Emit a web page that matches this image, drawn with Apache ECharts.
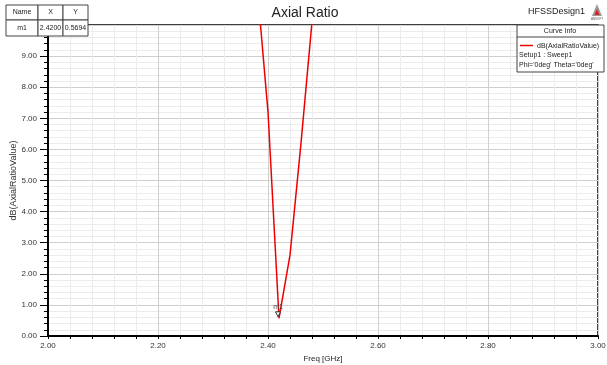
<!DOCTYPE html>
<html>
<head>
<meta charset="utf-8">
<script src="https://cdn.jsdelivr.net/npm/echarts@6/dist/echarts.min.js"></script>
<style>
  html, body { margin: 0; padding: 0; background: #fff; }
  #chart { width: 607px; height: 365px; }
</style>
</head>
<body>
<div id="chart"></div>
<script>
// Sweep points (GHz) and axial ratio (dB)
const freqs = [2.38, 2.40, 2.42, 2.44, 2.46, 2.48];
const axialRatio = [11.3, 7.2, 0.5694, 2.6, 6.2, 10.1];

// Marker m1
const markerName = 'm1';
const markerX = 2.42;
const markerY = 0.5694;

// Curve info lines
const curveName = 'dB(AxialRatioValue)';
const curveInfo = ['Setup1 : Sweep1', "Phi='0deg' Theta='0deg'"];

const FONT = "'Liberation Sans', Arial, sans-serif";
const chart = echarts.init(document.getElementById('chart'), null, { renderer: 'canvas' });

const table = [
  { x: 6, w: 32, head: 'Name', val: markerName },
  { x: 38, w: 25, head: 'X', val: markerX.toFixed(4) },
  { x: 63, w: 25, head: 'Y', val: markerY.toFixed(4) }
];
const tableGraphics = [];
table.forEach(c => {
  tableGraphics.push(
    { type: 'rect', shape: { x: c.x, y: 5, width: c.w, height: 15 }, style: { fill: '#fff', stroke: '#444', lineWidth: 1 }, z: 100 },
    { type: 'rect', shape: { x: c.x, y: 20, width: c.w, height: 16 }, style: { fill: '#fff', stroke: '#444', lineWidth: 1 }, z: 100 },
    { type: 'text', x: c.x + c.w / 2, y: 12.5, style: { text: c.head, fontSize: 7, fontFamily: FONT, fill: '#222', align: 'center', verticalAlign: 'middle' }, z: 101 },
    { type: 'text', x: c.x + c.w / 2, y: 28, style: { text: c.val, fontSize: 7, fontFamily: FONT, fill: '#222', align: 'center', verticalAlign: 'middle' }, z: 101 }
  );
});

const legendGraphics = [
  { type: 'rect', shape: { x: 517, y: 25, width: 87, height: 47 }, style: { fill: '#fff', stroke: '#444', lineWidth: 1 }, z: 100 },
  { type: 'line', shape: { x1: 517, y1: 37, x2: 604, y2: 37 }, style: { stroke: '#444', lineWidth: 1 }, z: 101 },
  { type: 'text', x: 560, y: 31, style: { text: 'Curve Info', fontSize: 7, fontFamily: FONT, fill: '#222', align: 'center', verticalAlign: 'middle' }, z: 101 },
  { type: 'line', shape: { x1: 520, y1: 45.5, x2: 533, y2: 45.5 }, style: { stroke: '#ee0000', lineWidth: 1.5 }, z: 101 },
  { type: 'text', x: 537, y: 46, style: { text: curveName, fontSize: 7, fontFamily: FONT, fill: '#222', align: 'left', verticalAlign: 'middle' }, z: 101 },
  { type: 'text', x: 519, y: 55, style: { text: curveInfo[0], fontSize: 7, fontFamily: FONT, fill: '#222', align: 'left', verticalAlign: 'middle' }, z: 101 },
  { type: 'text', x: 519, y: 65, style: { text: curveInfo[1], fontSize: 7, fontFamily: FONT, fill: '#222', align: 'left', verticalAlign: 'middle' }, z: 101 }
];

const headerGraphics = [
  { type: 'text', x: 305, y: 13, style: { text: 'Axial Ratio', fontSize: 14, fontFamily: FONT, fill: '#222', align: 'center', verticalAlign: 'middle' } },
  { type: 'text', x: 585, y: 12, style: { text: 'HFSSDesign1', fontSize: 9, fontFamily: FONT, fill: '#222', align: 'right', verticalAlign: 'middle' } },
  // small logo
  { type: 'polygon', shape: { points: [[597, 4], [592, 16], [602, 16]] }, style: { fill: '#999' } },
  { type: 'polygon', shape: { points: [[597, 9], [594.5, 15], [599.5, 15]] }, style: { fill: '#d22' } },
  { type: 'text', x: 597, y: 19, style: { text: 'ANSOFT', fontSize: 3, fontFamily: FONT, fill: '#555', align: 'center', verticalAlign: 'middle' } }
];

chart.setOption({
  animation: false,
  backgroundColor: '#fff',
  grid: {
    left: 48, right: 9, top: 25, bottom: 29,
    outerBoundsMode: 'none', containLabel: false,
    show: true, borderColor: '#000', borderWidth: 1.5, backgroundColor: 'transparent'
  },
  xAxis: {
    type: 'value', min: 2, max: 3, interval: 0.2,
    name: 'Freq [GHz]', nameLocation: 'middle', nameGap: 19, nameMoveOverlap: false,
    nameTextStyle: { fontSize: 8, fontFamily: FONT, color: '#222' },
    axisLine: { show: true, onZero: false, lineStyle: { color: '#000', width: 2 } },
    axisTick: { show: true, length: 3, lineStyle: { color: '#000' } },
    minorTick: { show: true, splitNumber: 5, length: 3, lineStyle: { color: '#000' } },
    axisLabel: { fontSize: 8, fontFamily: FONT, color: '#333', margin: 6, formatter: v => v.toFixed(2) },
    splitLine: { show: true, lineStyle: { color: '#cfcfcf', width: 1 } },
    minorSplitLine: { show: true, lineStyle: { color: '#ececec', width: 1 } }
  },
  yAxis: {
    type: 'value', min: 0, max: 10, interval: 1,
    name: 'dB(AxialRatioValue)', nameLocation: 'middle', nameGap: 30, nameRotate: 90, nameMoveOverlap: false,
    nameTextStyle: { fontSize: 9, fontFamily: FONT, color: '#333' },
    axisLine: { show: true, onZero: false, lineStyle: { color: '#000', width: 2 } },
    axisTick: { show: true, length: 8, lineStyle: { color: '#000' } },
    minorTick: { show: true, splitNumber: 5, length: 4, lineStyle: { color: '#000' } },
    axisLabel: { fontSize: 8, fontFamily: FONT, color: '#333', margin: 11, formatter: v => v >= 10 ? '' : v.toFixed(2) },
    splitLine: { show: true, lineStyle: { color: '#cfcfcf', width: 1 } },
    minorSplitLine: { show: true, lineStyle: { color: '#ececec', width: 1 } }
  },
  series: [{
    type: 'line',
    data: freqs.map((f, i) => [f, axialRatio[i]]),
    showSymbol: false,
    clip: true,
    lineStyle: { color: '#ee0000', width: 1.5 },
    markPoint: {
      data: [{ coord: [markerX, markerY], name: markerName }],
      symbol: 'triangle', symbolRotate: 180, symbolSize: [5, 5], symbolOffset: [-1, -4],
      itemStyle: { color: '#fff', borderColor: '#333', borderWidth: 1 },
      label: { show: true, position: 'top', distance: 1, formatter: markerName, fontSize: 7, fontFamily: FONT, color: '#444' }
    }
  }],
  graphic: headerGraphics.concat(tableGraphics, legendGraphics)
});
</script>
</body>
</html>
